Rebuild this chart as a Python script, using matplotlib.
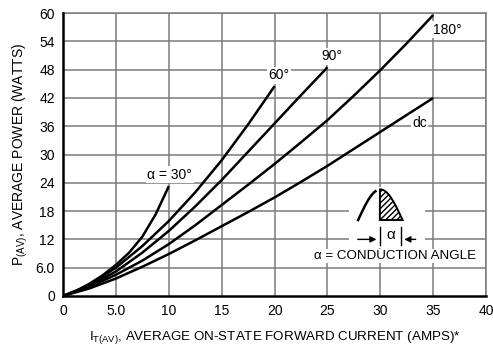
import matplotlib.pyplot as plt
import numpy as np
from matplotlib.patches import Rectangle, Polygon

plt.rcParams['font.family'] = ['Liberation Sans Narrow', 'Liberation Sans', 'DejaVu Sans']

# curve data (current A, power W)
i_30 = [0, 1.25, 2.5, 3.75, 5, 6.25, 7.5, 8.75, 10]
p_30 = [0, 1.1, 2.6, 4.4, 6.6, 9.2, 12.6, 17.3, 23.3]
i_60 = [0, 2.5, 5, 7.5, 10, 12.5, 15, 17.5, 20]
p_60 = [0, 2.3, 6.0, 10.6, 15.9, 22.0, 28.8, 36.4, 44.5]
i_90 = [0, 2.5, 5, 7.5, 10, 12.5, 15, 17.5, 20, 22.5, 25]
p_90 = [0, 2.1, 5.2, 9.2, 13.8, 19.0, 24.6, 30.6, 36.6, 42.6, 48.5]
i_180 = [0, 2.5, 5, 7.5, 10, 12.5, 15, 17.5, 20, 22.5, 25, 27.5, 30, 32.5, 35]
p_180 = [0, 1.9, 4.5, 7.5, 11.0, 15.0, 19.3, 23.6, 28.0, 32.6, 37.3, 42.5, 47.9, 53.6, 59.6]
i_dc = [0, 2.5, 5, 7.5, 10, 12.5, 15, 17.5, 20, 22.5, 25, 27.5, 30, 32.5, 35]
p_dc = [0, 1.6, 3.7, 6.2, 8.9, 11.8, 14.8, 17.8, 20.9, 24.2, 27.6, 31.2, 34.8, 38.4, 42.0]

xticks = [0, 5, 10, 15, 20, 25, 30, 35, 40]
xticklabels = ['0', '5.0', '10', '15', '20', '25', '30', '35', '40']
yticks = [0, 6, 12, 18, 24, 30, 36, 42, 48, 54, 60]
yticklabels = ['0', '6.0', '12', '18', '24', '30', '36', '42', '48', '54', '60']

fig = plt.figure(figsize=(4.93, 3.54), dpi=100)
ax = fig.add_axes([0.128, 0.164, 0.858, 0.799])

grid_c = '#7a7a7a'
for x in xticks[1:]:
    ax.axvline(x, color=grid_c, lw=1.1, zorder=1)
for y in yticks[1:]:
    ax.axhline(y, color=grid_c, lw=1.1, zorder=1)

# curves
for xs, ys in [(i_30, p_30), (i_60, p_60), (i_90, p_90), (i_180, p_180), (i_dc, p_dc)]:
    ax.plot(xs, ys, color='black', lw=1.8, zorder=4, solid_capstyle='butt',
            solid_joinstyle='round')

lbl = dict(fontsize=10, zorder=5)
box = dict(facecolor='white', edgecolor='none', pad=1.0)
ax.text(10.1, 25.7, 'α = 30°', ha='center', va='center', bbox=box, **lbl)
ax.text(20.4, 46.8, '60°', ha='center', va='center', bbox=box, **lbl)
ax.text(25.4, 50.8, '90°', ha='center', va='center', bbox=box, **lbl)
ax.text(36.3, 56.5, '180°', ha='center', va='center', bbox=box, **lbl)
ax.text(33.7, 36.6, 'dc', ha='center', va='center', bbox=box, **lbl)

# inset: conduction angle sketch
ax.add_patch(Rectangle((27.0, 10.2), 7.2, 12.9, facecolor='white', edgecolor='none', zorder=2))
t = np.linspace(0, np.pi, 60)
wx = 27.9 + (32.1 - 27.9) * t / np.pi
wy = 16.1 + 6.5 * np.sin(t)
left = wx < 29.6
ax.plot(wx[left], wy[left], color='black', lw=1.8, zorder=5)
right = wx >= 29.95
px = np.concatenate([[29.95], wx[right], [29.95]])
py = np.concatenate([[16.1], wy[right], [16.1]])
ax.add_patch(Polygon(np.column_stack([px, py]), closed=True, facecolor='white',
                     edgecolor='black', hatch='//////', lw=1.4, zorder=5))
ax.plot([29.95, 29.95], [10.8, 14.7], color='black', lw=1.0, zorder=5)
ax.plot([31.95, 31.95], [10.8, 14.7], color='black', lw=1.0, zorder=5)
ax.annotate('', xy=(29.9, 12.0), xytext=(27.6, 12.0),
            arrowprops=dict(arrowstyle='-|>', color='black', lw=1.0, mutation_scale=9), zorder=5)
ax.annotate('', xy=(32.0, 12.0), xytext=(33.6, 12.0),
            arrowprops=dict(arrowstyle='-|>', color='black', lw=1.0, mutation_scale=9), zorder=5)
ax.text(30.95, 13.0, 'α', ha='center', va='center', fontsize=11, zorder=5)
ax.text(31.4, 8.5, 'α = CONDUCTION ANGLE', ha='center', va='center',
        bbox=dict(facecolor='white', edgecolor='none', pad=0.5), fontsize=9.6, zorder=5)

ax.set_xlim(0, 40)
ax.set_ylim(0, 60)
ax.set_xticks(xticks)
ax.set_xticklabels(xticklabels)
ax.set_yticks(yticks)
ax.set_yticklabels(yticklabels)
ax.tick_params(length=0, labelsize=10, pad=6)
for s in ['top', 'right']:
    ax.spines[s].set_color(grid_c)
    ax.spines[s].set_linewidth(1.1)
for s in ['left', 'bottom']:
    ax.spines[s].set_linewidth(1.8)
    ax.spines[s].set_zorder(6)

ax.set_xlabel(r'I$_{\mathregular{T(AV)}}$, AVERAGE ON-STATE FORWARD CURRENT (AMPS)*',
              fontsize=9.6, labelpad=8)
ax.set_ylabel(r'P$_{\mathregular{(AV)}}$, AVERAGE POWER (WATTS)', fontsize=10, labelpad=4)

fig.savefig('out.png', dpi=100)
